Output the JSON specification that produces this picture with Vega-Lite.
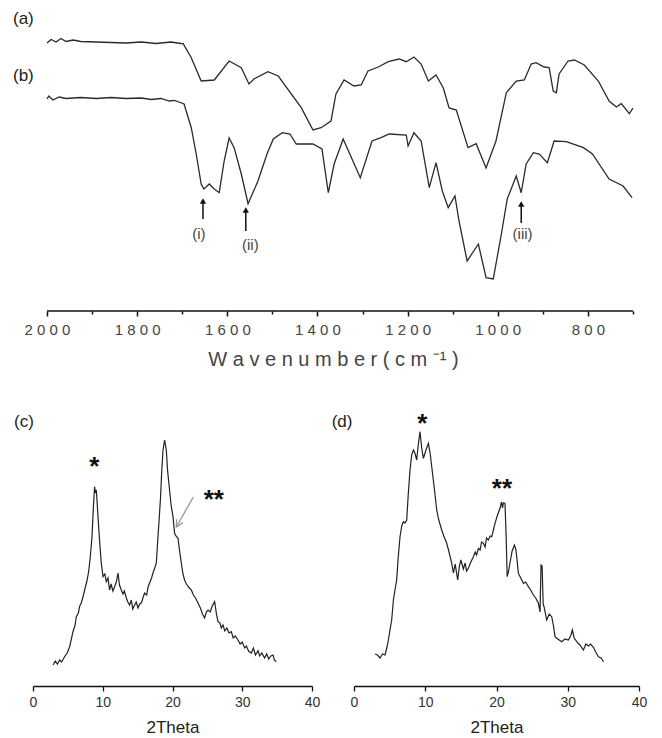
{
  "$schema": "https://vega.github.io/schema/vega-lite/v6.json",
  "background": "white",
  "padding": {"left": 12, "top": 9, "right": 5, "bottom": 2},
  "config": {"font": "Liberation Sans", "view": {"stroke": null}, "axis": {"grid": false}},
  "datasets": {
    "ftir": [
      {"s":"a","wn":2000,"T":268},{"s":"a","wn":1991,"T":271.5},{"s":"a","wn":1980,"T":269},{"s":"a","wn":1969,"T":272.5},{"s":"a","wn":1958,"T":269.5},{"s":"a","wn":1942,"T":271},{"s":"a","wn":1925,"T":269.5},{"s":"a","wn":1891,"T":269},{"s":"a","wn":1858,"T":268.5},{"s":"a","wn":1825,"T":268},{"s":"a","wn":1791,"T":269},{"s":"a","wn":1758,"T":267.5},{"s":"a","wn":1725,"T":269},{"s":"a","wn":1703,"T":267.5},{"s":"a","wn":1698,"T":267.3},{"s":"a","wn":1680,"T":253.3},{"s":"a","wn":1658,"T":230},{"s":"a","wn":1629,"T":231},{"s":"a","wn":1596,"T":250},{"s":"a","wn":1569,"T":243.3},{"s":"a","wn":1552,"T":227},{"s":"a","wn":1541,"T":232},{"s":"a","wn":1510,"T":239.3},{"s":"a","wn":1487,"T":235},{"s":"a","wn":1436,"T":203.3},{"s":"a","wn":1410,"T":181},{"s":"a","wn":1392,"T":183.3},{"s":"a","wn":1370,"T":190},{"s":"a","wn":1359,"T":217},{"s":"a","wn":1341,"T":231},{"s":"a","wn":1319,"T":225},{"s":"a","wn":1303,"T":226},{"s":"a","wn":1288,"T":240},{"s":"a","wn":1265,"T":244},{"s":"a","wn":1243,"T":249.3},{"s":"a","wn":1219,"T":252},{"s":"a","wn":1203,"T":249.3},{"s":"a","wn":1186,"T":254},{"s":"a","wn":1170,"T":247},{"s":"a","wn":1154,"T":230},{"s":"a","wn":1137,"T":236},{"s":"a","wn":1121,"T":223.3},{"s":"a","wn":1108,"T":203},{"s":"a","wn":1092,"T":201},{"s":"a","wn":1066,"T":163.3},{"s":"a","wn":1048,"T":167.3},{"s":"a","wn":1026,"T":143},{"s":"a","wn":1004,"T":170},{"s":"a","wn":981,"T":218.3},{"s":"a","wn":959,"T":230},{"s":"a","wn":941,"T":231},{"s":"a","wn":926,"T":247},{"s":"a","wn":915,"T":248.3},{"s":"a","wn":897,"T":244},{"s":"a","wn":886,"T":243.3},{"s":"a","wn":877,"T":220},{"s":"a","wn":870,"T":218.3},{"s":"a","wn":864,"T":237},{"s":"a","wn":844,"T":250},{"s":"a","wn":830,"T":251},{"s":"a","wn":808,"T":246},{"s":"a","wn":777,"T":230},{"s":"a","wn":753,"T":210},{"s":"a","wn":737,"T":204},{"s":"a","wn":726,"T":207.3},{"s":"a","wn":708,"T":197.3},{"s":"a","wn":700,"T":203},
      {"s":"b","wn":2000,"T":212},{"s":"b","wn":1996,"T":215},{"s":"b","wn":1987,"T":211},{"s":"b","wn":1973,"T":214},{"s":"b","wn":1958,"T":212.5},{"s":"b","wn":1925,"T":213.5},{"s":"b","wn":1891,"T":212.5},{"s":"b","wn":1858,"T":213.5},{"s":"b","wn":1825,"T":212.5},{"s":"b","wn":1791,"T":213},{"s":"b","wn":1769,"T":211.5},{"s":"b","wn":1747,"T":212.5},{"s":"b","wn":1729,"T":210},{"s":"b","wn":1718,"T":210.7},{"s":"b","wn":1707,"T":209},{"s":"b","wn":1696,"T":207},{"s":"b","wn":1680,"T":183.3},{"s":"b","wn":1669,"T":157},{"s":"b","wn":1658,"T":127},{"s":"b","wn":1652,"T":122},{"s":"b","wn":1640,"T":127},{"s":"b","wn":1629,"T":122},{"s":"b","wn":1618,"T":118.3},{"s":"b","wn":1607,"T":150},{"s":"b","wn":1596,"T":173},{"s":"b","wn":1585,"T":163.3},{"s":"b","wn":1569,"T":137},{"s":"b","wn":1554,"T":107.3},{"s":"b","wn":1532,"T":130},{"s":"b","wn":1512,"T":157},{"s":"b","wn":1498,"T":172},{"s":"b","wn":1478,"T":178.3},{"s":"b","wn":1461,"T":177},{"s":"b","wn":1447,"T":167},{"s":"b","wn":1410,"T":167},{"s":"b","wn":1390,"T":162},{"s":"b","wn":1376,"T":118.3},{"s":"b","wn":1363,"T":147},{"s":"b","wn":1343,"T":172},{"s":"b","wn":1305,"T":133.3},{"s":"b","wn":1279,"T":170},{"s":"b","wn":1259,"T":173.3},{"s":"b","wn":1241,"T":177},{"s":"b","wn":1203,"T":176},{"s":"b","wn":1199,"T":165},{"s":"b","wn":1186,"T":178.3},{"s":"b","wn":1170,"T":170},{"s":"b","wn":1152,"T":123.3},{"s":"b","wn":1137,"T":148.3},{"s":"b","wn":1123,"T":120},{"s":"b","wn":1110,"T":103.3},{"s":"b","wn":1095,"T":115},{"s":"b","wn":1086,"T":90},{"s":"b","wn":1068,"T":50},{"s":"b","wn":1043,"T":67},{"s":"b","wn":1026,"T":33.3},{"s":"b","wn":1010,"T":32},{"s":"b","wn":992,"T":77},{"s":"b","wn":979,"T":112},{"s":"b","wn":959,"T":135},{"s":"b","wn":948,"T":118.3},{"s":"b","wn":937,"T":147},{"s":"b","wn":921,"T":158.3},{"s":"b","wn":908,"T":157},{"s":"b","wn":890,"T":148.3},{"s":"b","wn":875,"T":170},{"s":"b","wn":848,"T":169.3},{"s":"b","wn":810,"T":163.3},{"s":"b","wn":790,"T":157},{"s":"b","wn":753,"T":132},{"s":"b","wn":722,"T":125},{"s":"b","wn":702,"T":113.3}
    ],
    "ftirAxis": [{"a":2000,"b":700,"y":0}],
    "ftirLabels": [
      {"wn":2075.5,"T":292,"t":"(a)"},{"wn":2075.5,"T":235,"t":"(b)"}
    ],
    "arrows": [
      {"wn":1654,"y1":92,"y2":110},{"wn":1559,"y1":80,"y2":101},{"wn":948,"y1":88,"y2":107}
    ],
    "arrowLabels": [
      {"wn":1663,"T":77,"t":"(i)"},{"wn":1549,"T":66,"t":"(ii)"},{"wn":945,"T":77,"t":"(iii)"}
    ],
    "xrdc": [
      {"t":2.87,"i":21},{"t":3.2,"i":25},{"t":3.5,"i":22},{"t":3.81,"i":26},{"t":4.1,"i":24},{"t":4.53,"i":29.3},{"t":4.9,"i":33},{"t":5.25,"i":39.3},{"t":5.5,"i":47},{"t":5.73,"i":54.3},{"t":6.0,"i":60},{"t":6.21,"i":69.3},{"t":6.5,"i":73},{"t":6.7,"i":80},{"t":6.92,"i":83},{"t":7.2,"i":90},{"t":7.4,"i":96},{"t":7.7,"i":104},{"t":7.97,"i":114},{"t":8.2,"i":128},{"t":8.46,"i":149.3},{"t":8.65,"i":178},{"t":8.83,"i":199.3},{"t":8.95,"i":193},{"t":9.08,"i":196},{"t":9.2,"i":183},{"t":9.32,"i":169.3},{"t":9.55,"i":145},{"t":9.79,"i":123},{"t":10.04,"i":109.3},{"t":10.3,"i":112},{"t":10.51,"i":104.3},{"t":10.75,"i":108},{"t":10.98,"i":96},{"t":11.2,"i":102},{"t":11.45,"i":95},{"t":11.7,"i":99.3},{"t":11.95,"i":104},{"t":12.19,"i":113},{"t":12.4,"i":101},{"t":12.66,"i":96},{"t":12.9,"i":92},{"t":13.1,"i":95},{"t":13.38,"i":88},{"t":13.6,"i":84},{"t":13.85,"i":81},{"t":14.1,"i":86},{"t":14.3,"i":77},{"t":14.57,"i":81},{"t":14.8,"i":84},{"t":15.05,"i":78},{"t":15.3,"i":82},{"t":15.53,"i":83},{"t":15.8,"i":89},{"t":16.0,"i":93},{"t":16.3,"i":91},{"t":16.5,"i":99},{"t":16.72,"i":103},{"t":17.0,"i":108},{"t":17.2,"i":113},{"t":17.45,"i":118},{"t":17.68,"i":123},{"t":17.92,"i":149.3},{"t":18.1,"i":168},{"t":18.29,"i":189.3},{"t":18.45,"i":214},{"t":18.64,"i":236},{"t":18.87,"i":246},{"t":19.11,"i":236},{"t":19.3,"i":215},{"t":19.58,"i":196},{"t":19.8,"i":181},{"t":20.07,"i":169.3},{"t":20.3,"i":152.7},{"t":20.5,"i":150},{"t":20.79,"i":147.7},{"t":21.0,"i":136},{"t":21.26,"i":123},{"t":21.5,"i":112},{"t":21.73,"i":106},{"t":22.0,"i":102},{"t":22.3,"i":99},{"t":22.7,"i":96},{"t":23.0,"i":91},{"t":23.3,"i":88},{"t":23.66,"i":83},{"t":24.0,"i":78},{"t":24.3,"i":72},{"t":24.6,"i":68},{"t":24.85,"i":74},{"t":25.09,"i":76},{"t":25.4,"i":74},{"t":25.7,"i":80},{"t":26.04,"i":84.3},{"t":26.3,"i":72},{"t":26.52,"i":64.3},{"t":26.8,"i":63},{"t":27.0,"i":58},{"t":27.24,"i":61},{"t":27.5,"i":55},{"t":27.8,"i":58},{"t":28.1,"i":53},{"t":28.43,"i":54.3},{"t":28.7,"i":48},{"t":29.0,"i":50},{"t":29.39,"i":46},{"t":29.7,"i":42},{"t":30.0,"i":44},{"t":30.34,"i":38},{"t":30.6,"i":40},{"t":30.9,"i":35},{"t":31.3,"i":33},{"t":31.6,"i":38},{"t":31.9,"i":31},{"t":32.26,"i":35.3},{"t":32.5,"i":30},{"t":32.8,"i":33},{"t":33.2,"i":28},{"t":33.5,"i":32},{"t":33.8,"i":27},{"t":34.1,"i":30},{"t":34.41,"i":31},{"t":34.6,"i":26},{"t":34.88,"i":24.3}
    ],
    "xrdd": [
      {"t":2.95,"i":32},{"t":3.3,"i":31},{"t":3.65,"i":28},{"t":4.0,"i":32},{"t":4.35,"i":31},{"t":4.6,"i":38},{"t":4.83,"i":46},{"t":5.05,"i":56},{"t":5.29,"i":66},{"t":5.53,"i":86},{"t":5.75,"i":96},{"t":5.99,"i":106},{"t":6.2,"i":128},{"t":6.46,"i":149.3},{"t":6.7,"i":160},{"t":6.93,"i":164.3},{"t":7.15,"i":163},{"t":7.4,"i":166},{"t":7.6,"i":190},{"t":7.86,"i":216},{"t":8.1,"i":231},{"t":8.34,"i":236},{"t":8.55,"i":233},{"t":8.8,"i":226},{"t":9.0,"i":240},{"t":9.26,"i":254.3},{"t":9.5,"i":238},{"t":9.74,"i":227.7},{"t":10.1,"i":236},{"t":10.44,"i":242.7},{"t":10.7,"i":232},{"t":10.91,"i":219.3},{"t":11.3,"i":196},{"t":11.61,"i":176},{"t":11.9,"i":166},{"t":12.31,"i":156},{"t":12.6,"i":150},{"t":13.01,"i":142.7},{"t":13.3,"i":135},{"t":13.71,"i":123},{"t":13.95,"i":113},{"t":14.2,"i":122},{"t":14.55,"i":106},{"t":14.8,"i":120},{"t":15.0,"i":126},{"t":15.35,"i":117},{"t":15.6,"i":123},{"t":15.8,"i":115},{"t":16.06,"i":118},{"t":16.4,"i":124},{"t":16.76,"i":129.3},{"t":17.0,"i":134},{"t":17.2,"i":131},{"t":17.46,"i":137.7},{"t":17.7,"i":136},{"t":17.9,"i":144},{"t":18.16,"i":142.7},{"t":18.4,"i":139},{"t":18.6,"i":148},{"t":18.86,"i":146},{"t":19.1,"i":150},{"t":19.33,"i":149.3},{"t":19.6,"i":157},{"t":19.79,"i":162.7},{"t":20.1,"i":170},{"t":20.49,"i":177.7},{"t":20.7,"i":184},{"t":20.85,"i":178},{"t":20.97,"i":183.3},{"t":21.19,"i":182.7},{"t":21.35,"i":150},{"t":21.5,"i":109.3},{"t":21.7,"i":115},{"t":21.89,"i":123},{"t":22.2,"i":135},{"t":22.51,"i":141},{"t":22.7,"i":137},{"t":22.84,"i":129.3},{"t":23.07,"i":112.7},{"t":23.4,"i":108},{"t":23.78,"i":102.7},{"t":24.1,"i":104},{"t":24.48,"i":99.3},{"t":24.8,"i":96},{"t":25.18,"i":91},{"t":25.5,"i":88},{"t":25.88,"i":82.7},{"t":26.11,"i":74},{"t":26.25,"i":121},{"t":26.4,"i":120},{"t":26.55,"i":82},{"t":26.67,"i":79.3},{"t":27.05,"i":66},{"t":27.4,"i":72},{"t":27.75,"i":69.3},{"t":28.0,"i":60},{"t":28.21,"i":49.3},{"t":28.6,"i":47},{"t":29.15,"i":44.3},{"t":29.6,"i":47},{"t":30.09,"i":46},{"t":30.4,"i":50},{"t":30.65,"i":56},{"t":30.9,"i":48},{"t":31.26,"i":44.3},{"t":31.7,"i":41},{"t":32.2,"i":36},{"t":32.55,"i":42},{"t":32.9,"i":40},{"t":33.2,"i":42},{"t":33.6,"i":38.7},{"t":34.0,"i":33},{"t":34.3,"i":29.3},{"t":34.7,"i":28},{"t":35.0,"i":24.3}
    ],
    "cLabels": [{"t":-2.72,"i":264,"s":"(c)"}],
    "cStars": [{"t":8.8,"i":226,"s":"*"},{"t":25.92,"i":192.7,"s":"**"}],
    "dLabels": [{"t":-3.13,"i":264,"s":"(d)"}],
    "dStars": [{"t":9.6,"i":269.3,"s":"*"},{"t":20.77,"i":204,"s":"**"}],
    "cArrow": [{"t":22.98,"i":189,"t2":20.55,"i2":159}],
    "cHead": [{"o":1,"t":21.48,"i":163.4},{"o":2,"t":20.55,"i":159},{"o":3,"t":20.6,"i":166.8}]
  },
  "bounds": "flush",
  "spacing": 95,
  "vconcat": [
    {
      "width": 600,
      "height": 300,
      "layer": [
        {
          "data": {"name": "ftir"},
          "mark": {"type": "line", "color": "#2a2a2a", "strokeWidth": 1.3},
          "encoding": {
            "x": {"field": "wn", "type": "quantitative",
              "scale": {"domain": [700, 2031.1], "reverse": true, "nice": false, "zero": false},
              "axis": {
                "values": [2000,1900,1800,1700,1600,1500,1400,1300,1200,1100,1000,900,800,700],
                "format": "d",
                "domain": false,
                "labelExpr": "datum.value % 200 == 0 && datum.value >= 800 ? join(split(datum.label, ''), ' ') : ''",
                "labelFontSize": 15, "labelColor": "#444", "labelPadding": 6, "labelFlush": false, "labelOverlap": false,
                "tickColor": "#111", "tickWidth": 1.5,
                "tickSize": {"condition": {"test": "datum.value % 200 == 0", "value": 5}, "value": 3},
                "title": "W a v e n u m b e r  ( c m ⁻¹ )",
                "titleFontSize": 20, "titleFontWeight": "normal", "titleColor": "#444", "titlePadding": 12
              }},
            "y": {"field": "T", "type": "quantitative", "scale": {"domain": [0, 300], "nice": false, "zero": false}, "axis": null},
            "detail": {"field": "s"}
          }
        },
        {
          "data": {"name": "ftirAxis"},
          "mark": {"type": "rule", "color": "#111", "strokeWidth": 1.5},
          "encoding": {
            "x": {"field": "a", "type": "quantitative"},
            "x2": {"field": "b"},
            "y": {"field": "y", "type": "quantitative"}
          }
        },
        {
          "data": {"name": "ftirLabels"},
          "mark": {"type": "text", "align": "left", "baseline": "middle", "fontSize": 17, "color": "#222"},
          "encoding": {
            "x": {"field": "wn", "type": "quantitative"},
            "y": {"field": "T", "type": "quantitative"},
            "text": {"field": "t"}
          }
        },
        {
          "data": {"name": "arrows"},
          "mark": {"type": "rule", "color": "#111", "strokeWidth": 1.5},
          "encoding": {
            "x": {"field": "wn", "type": "quantitative"},
            "y": {"field": "y1", "type": "quantitative"},
            "y2": {"field": "y2"}
          }
        },
        {
          "data": {"name": "arrows"},
          "mark": {"type": "point", "shape": "triangle-up", "filled": true, "color": "#111", "size": 40, "opacity": 1},
          "encoding": {
            "x": {"field": "wn", "type": "quantitative"},
            "y": {"field": "y2", "type": "quantitative"}
          }
        },
        {
          "data": {"name": "arrowLabels"},
          "mark": {"type": "text", "align": "center", "baseline": "middle", "fontSize": 15, "color": "#444"},
          "encoding": {
            "x": {"field": "wn", "type": "quantitative"},
            "y": {"field": "T", "type": "quantitative"},
            "text": {"field": "t"}
          }
        }
      ]
    },
    {
      "spacing": 11,
      "hconcat": [
        {
          "width": 279,
          "height": 280,
          "layer": [
            {
              "data": {"name": "xrdc"},
              "mark": {"type": "line", "color": "#222", "strokeWidth": 1.2},
              "encoding": {
                "x": {"field": "t", "type": "quantitative",
                  "scale": {"domain": [0, 40], "nice": false, "zero": false},
                  "axis": {
                    "values": [0,2.5,5,7.5,10,12.5,15,17.5,20,22.5,25,27.5,30,32.5,35,37.5,40],
                    "labelExpr": "datum.value % 5 === 0 ? '' + datum.value : ''",
                    "labelFontSize": 14, "labelColor": "#333", "labelPadding": 4, "labelFlush": false, "labelOverlap": false,
                    "domainColor": "#111", "domainWidth": 1.3, "tickColor": "#111", "tickWidth": 1.3,
                    "tickSize": {"condition": {"test": "datum.value % 5 === 0", "value": 5}, "value": 3},
                    "title": "2Theta", "titleFontSize": 17, "titleFontWeight": "normal", "titleColor": "#222", "titlePadding": 10
                  }},
                "y": {"field": "i", "type": "quantitative", "scale": {"domain": [0, 280], "nice": false, "zero": false}, "axis": null}
              }
            },
            {
              "data": {"name": "cLabels"},
              "mark": {"type": "text", "align": "left", "baseline": "middle", "fontSize": 17, "color": "#222"},
              "encoding": {
                "x": {"field": "t", "type": "quantitative"},
                "y": {"field": "i", "type": "quantitative"},
                "text": {"field": "s"}
              }
            },
            {
              "data": {"name": "cStars"},
              "mark": {"type": "text", "align": "center", "baseline": "middle", "fontSize": 26, "fontWeight": "bold", "color": "#111", "dy": 7},
              "encoding": {
                "x": {"field": "t", "type": "quantitative"},
                "y": {"field": "i", "type": "quantitative"},
                "text": {"field": "s"}
              }
            },
            {
              "data": {"name": "cArrow"},
              "mark": {"type": "rule", "color": "#999", "strokeWidth": 1.3},
              "encoding": {
                "x": {"field": "t", "type": "quantitative"},
                "y": {"field": "i", "type": "quantitative"},
                "x2": {"field": "t2"},
                "y2": {"field": "i2"}
              }
            },
            {
              "data": {"name": "cHead"},
              "mark": {"type": "line", "color": "#999", "strokeWidth": 1.3},
              "encoding": {
                "x": {"field": "t", "type": "quantitative"},
                "y": {"field": "i", "type": "quantitative"},
                "order": {"field": "o"}
              }
            }
          ]
        },
        {
          "width": 285,
          "height": 280,
          "layer": [
            {
              "data": {"name": "xrdd"},
              "mark": {"type": "line", "color": "#222", "strokeWidth": 1.2},
              "encoding": {
                "x": {"field": "t", "type": "quantitative",
                  "scale": {"domain": [0, 40], "nice": false, "zero": false},
                  "axis": {
                    "values": [0,2.5,5,7.5,10,12.5,15,17.5,20,22.5,25,27.5,30,32.5,35,37.5,40],
                    "labelExpr": "datum.value % 5 === 0 ? '' + datum.value : ''",
                    "labelFontSize": 14, "labelColor": "#333", "labelPadding": 4, "labelFlush": false, "labelOverlap": false,
                    "domainColor": "#111", "domainWidth": 1.3, "tickColor": "#111", "tickWidth": 1.3,
                    "tickSize": {"condition": {"test": "datum.value % 5 === 0", "value": 5}, "value": 3},
                    "title": "2Theta", "titleFontSize": 17, "titleFontWeight": "normal", "titleColor": "#222", "titlePadding": 10
                  }},
                "y": {"field": "i", "type": "quantitative", "scale": {"domain": [0, 280], "nice": false, "zero": false}, "axis": null}
              }
            },
            {
              "data": {"name": "dLabels"},
              "mark": {"type": "text", "align": "left", "baseline": "middle", "fontSize": 17, "color": "#222"},
              "encoding": {
                "x": {"field": "t", "type": "quantitative"},
                "y": {"field": "i", "type": "quantitative"},
                "text": {"field": "s"}
              }
            },
            {
              "data": {"name": "dStars"},
              "mark": {"type": "text", "align": "center", "baseline": "middle", "fontSize": 26, "fontWeight": "bold", "color": "#111", "dy": 7},
              "encoding": {
                "x": {"field": "t", "type": "quantitative"},
                "y": {"field": "i", "type": "quantitative"},
                "text": {"field": "s"}
              }
            }
          ]
        }
      ]
    }
  ]
}
